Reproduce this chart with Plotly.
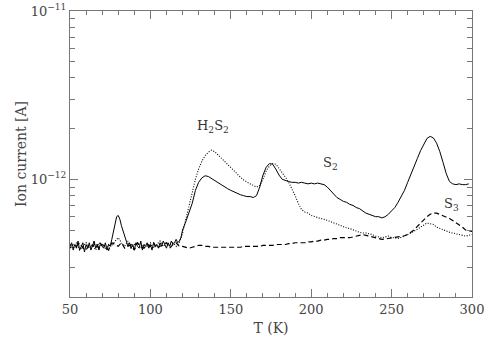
import math
import plotly.graph_objects as go

# temperature grids (K) and ion currents (units of 1e-13 A)
t_base_fine = list(range(50, 120))
t_base_coarse = list(range(50, 120, 2))
t_main = list(range(120, 302, 2))

s2_base = [4.0, 4.2, 3.8, 4.1, 3.9, 4.3, 3.8, 4.0, 4.2, 3.7, 4.1, 3.9, 4.2, 3.8, 4.0, 4.3,
           3.9, 4.1, 3.8, 4.2, 4.0, 3.9, 4.2, 3.8, 4.1, 4.0,
           4.4, 4.9, 5.5, 6.0, 6.1, 5.8, 5.3, 4.9, 4.5, 4.3, 4.0, 4.2, 3.9,
           4.1, 3.8, 4.2, 4.0, 3.9, 4.3, 3.8, 4.1, 4.0, 4.2, 3.9, 4.1, 3.8, 4.2, 4.0, 4.1,
           3.9, 4.2, 4.0, 4.3, 4.1, 3.9, 4.2, 4.0, 4.3, 4.1, 4.2, 4.4, 4.2, 4.3]
s2_main = [4.5, 5.0, 5.6, 6.3, 7.2, 8.6, 9.6, 10.2, 10.5, 10.4, 10.1, 9.9, 9.6, 9.3, 9.0,
           8.8, 8.6, 8.4, 8.2, 8.1, 8.0, 7.9, 7.9, 7.8, 8.0, 9.0, 10.6, 11.8, 12.4, 12.3,
           11.5, 10.6, 10.0, 9.8, 9.7, 9.6, 9.6, 9.5, 9.6, 9.5, 9.4, 9.5, 9.4, 9.5, 9.4,
           9.3, 9.0, 8.6, 8.2, 7.8, 7.6, 7.4, 7.3, 7.1, 7.0, 6.8, 6.7, 6.5, 6.3, 6.2, 6.1,
           6.0, 6.0, 5.9, 6.0, 6.2, 6.5, 6.8, 7.3, 7.9, 8.6, 9.6, 10.8, 12.0, 13.3, 14.8,
           16.2, 17.5, 18.0, 17.6, 16.4, 14.6, 12.6, 10.8, 9.7, 9.4, 9.3, 9.4, 9.3, 9.3, 9.4]

h2s2_base = [4.1, 3.9, 4.2, 3.8, 4.0, 4.2, 3.9, 4.1, 3.8, 4.2, 4.0, 3.9, 4.1, 4.0, 4.3,
             4.5, 4.2, 4.0, 4.3, 3.9, 4.1, 4.2, 3.9, 4.1, 4.0, 4.2, 3.9, 4.1, 4.3, 4.0,
             4.2, 4.1, 4.2, 4.0, 4.2]
h2s2_main = [4.8, 5.8, 7.0, 8.4, 10.0, 11.5, 12.8, 13.8, 14.5, 14.9, 14.6, 14.0, 13.4,
             12.8, 12.2, 11.6, 11.2, 10.7, 10.3, 9.9, 9.6, 9.4, 9.2, 9.0, 9.2, 10.0, 11.2,
             12.0, 12.4, 12.3, 11.6, 11.0, 10.3, 9.6, 8.8, 8.0, 7.2, 6.6, 6.4, 6.3, 6.1,
             6.0, 5.9, 5.85, 5.8, 5.7, 5.6, 5.5, 5.4, 5.3, 5.2, 5.15, 5.1, 5.0, 4.9, 4.85,
             4.8, 4.8, 4.75, 4.7, 4.6, 4.55, 4.5, 4.55, 4.6, 4.5, 4.5, 4.45, 4.55, 4.6,
             4.7, 4.8, 4.9, 5.05, 5.2, 5.35, 5.5, 5.45, 5.4, 5.2, 5.1, 5.0, 4.9, 4.85,
             4.8, 4.75, 4.7, 4.65, 4.6, 4.65, 4.7]

s3_base = [3.9, 4.1, 4.0, 4.2, 3.9, 3.8, 4.1, 4.0, 4.2, 3.9, 4.1, 4.0, 3.8, 4.2, 4.1,
           4.0, 4.2, 3.9, 4.0, 4.1, 3.8, 4.2, 4.0, 3.9, 4.1, 4.0, 4.2, 3.9, 4.0, 4.1,
           4.2, 3.9, 4.1, 4.2, 4.0]
s3_main = [4.0, 3.95, 3.9, 3.95, 4.0, 4.05, 4.05, 4.0, 4.0, 3.95, 3.95, 3.95, 3.95, 3.95,
           3.95, 3.95, 3.95, 3.95, 3.95, 4.0, 4.0, 4.0, 4.0, 4.0, 4.0, 4.05, 4.05, 4.05,
           4.05, 4.1, 4.1, 4.1, 4.1, 4.15, 4.15, 4.2, 4.2, 4.2, 4.2, 4.25, 4.25, 4.3, 4.3,
           4.35, 4.35, 4.4, 4.4, 4.45, 4.45, 4.5, 4.5, 4.5, 4.5, 4.55, 4.6, 4.65, 4.7, 4.65,
           4.6, 4.55, 4.5, 4.45, 4.4, 4.42, 4.45, 4.48, 4.5, 4.52, 4.55, 4.62, 4.7, 4.85,
           5.0, 5.25, 5.5, 5.75, 6.0, 6.2, 6.3, 6.3, 6.2, 6.1, 6.0, 5.85, 5.7, 5.55, 5.4,
           5.2, 5.0, 4.95, 4.9]

labels = ["H<sub>2</sub>S<sub>2</sub>", "S<sub>2</sub>", "S<sub>3</sub>"]
label_t = [139, 212, 287]
label_i = [20.5, 12.5, 7.1]

minor_vals = [k * 1e-13 for k in range(2, 10)] + [k * 1e-12 for k in range(2, 10)]

def amps(vals):
    return [v * 1e-13 for v in vals]

fig = go.Figure()
fig.add_trace(go.Scatter(x=t_base_fine + t_main, y=amps(s2_base + s2_main), mode="lines",
                         line=dict(color="black", width=1), name="S2"))
fig.add_trace(go.Scatter(x=t_base_coarse + t_main, y=amps(h2s2_base + h2s2_main), mode="lines",
                         line=dict(color="black", width=1.1, dash="1px,1.6px"), name="H2S2"))
fig.add_trace(go.Scatter(x=t_base_coarse + t_main, y=amps(s3_base + s3_main), mode="lines",
                         line=dict(color="black", width=1.2, dash="5px,3px"), name="S3"))

for txt, t, i in zip(labels, label_t, label_i):
    fig.add_annotation(x=t, y=math.log10(i * 1e-13), text=txt, showarrow=False,
                       font=dict(size=13, color="#333"))

axis_common = dict(showline=True, linecolor="#777", linewidth=1, mirror="ticks",
                   ticks="inside", tickcolor="#777", showgrid=False, zeroline=False,
                   automargin=False)

fig.update_xaxes(range=[50, 300], tickvals=[50, 100, 150, 200, 250, 300], ticklen=8,
                 minor=dict(dtick=10, tick0=50, ticks="inside", ticklen=4, tickcolor="#777"),
                 title=dict(text="T (K)", standoff=7, font=dict(size=14)), **axis_common)
fig.update_yaxes(type="log", range=[math.log10(2e-13), -11],
                 tickvals=[1e-12, 1e-11], ticktext=["10<sup>−12</sup>", "10<sup>−11</sup>"],
                 ticklen=8,
                 minor=dict(tickmode="array", tickvals=minor_vals, ticks="inside",
                            ticklen=5, tickcolor="#777"),
                 title=dict(text="Ion current [A]", standoff=0, font=dict(size=14)), **axis_common)

fig.update_layout(width=491, height=341, margin=dict(l=70, r=19, t=11, b=44),
                  plot_bgcolor="white", paper_bgcolor="white", showlegend=False,
                  font=dict(family="DejaVu Serif", size=13, color="#444"))

fig.write_html("out.html", config={"displayModeBar": False},
               post_script="document.body.style.margin='0';")
